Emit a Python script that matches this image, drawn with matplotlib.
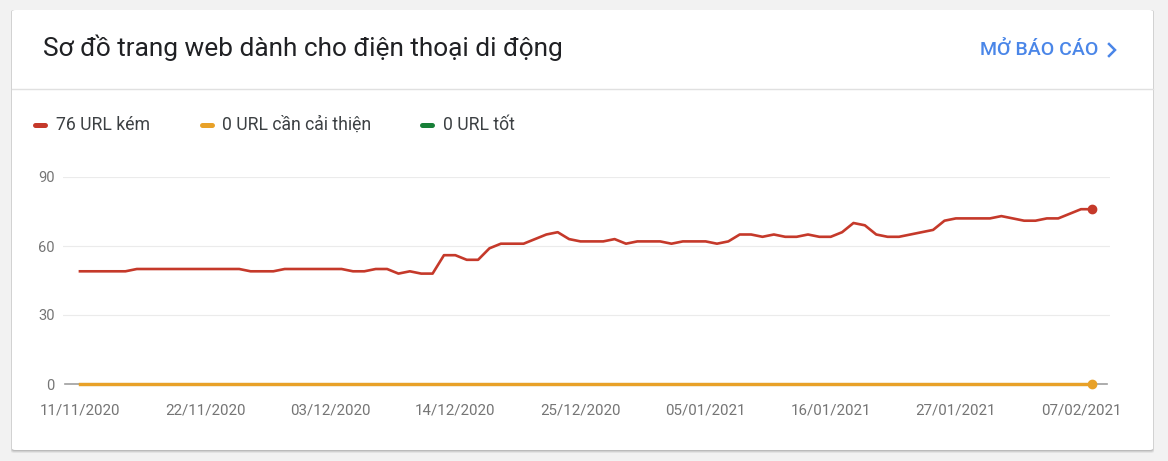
import matplotlib
matplotlib.use("Agg")
import matplotlib.pyplot as plt
import matplotlib.dates as mdates
from matplotlib.patches import FancyBboxPatch
from matplotlib.lines import Line2D
import pandas as pd

# ---------------- data ----------------
start_date = "2020-11-11"
poor = [49, 49, 49, 49, 49, 50, 50, 50, 50, 50,
        50, 50, 50, 50, 50, 49, 49, 49, 50, 50,
        50, 50, 50, 50, 49, 49, 50, 50, 48, 49,
        48, 48, 56, 56, 54, 54, 59, 61, 61, 61,
        63, 65, 66, 63, 62, 62, 62, 63, 61, 62,
        62, 62, 61, 62, 62, 62, 61, 62, 65, 65,
        64, 65, 64, 64, 65, 64, 64, 66, 70, 69,
        65, 64, 64, 65, 66, 67, 71, 72, 72, 72,
        72, 73, 72, 71, 71, 72, 72, 74, 76, 76]
needs_improvement = [0, 0, 0, 0, 0, 0, 0, 0, 0, 0,
                     0, 0, 0, 0, 0, 0, 0, 0, 0, 0,
                     0, 0, 0, 0, 0, 0, 0, 0, 0, 0,
                     0, 0, 0, 0, 0, 0, 0, 0, 0, 0,
                     0, 0, 0, 0, 0, 0, 0, 0, 0, 0,
                     0, 0, 0, 0, 0, 0, 0, 0, 0, 0,
                     0, 0, 0, 0, 0, 0, 0, 0, 0, 0,
                     0, 0, 0, 0, 0, 0, 0, 0, 0, 0,
                     0, 0, 0, 0, 0, 0, 0, 0, 0, 0]
good = list(needs_improvement)
x_tick_labels = ["11/11/2020", "22/11/2020", "03/12/2020", "14/12/2020", "25/12/2020",
                 "05/01/2021", "16/01/2021", "27/01/2021", "07/02/2021"]
y_ticks = [0, 30, 60, 90]
legend_labels = ["76 URL kém", "0 URL cần cải thiện", "0 URL tốt"]
title = "Sơ đồ trang web dành cho điện thoại di động"
link_text = "MỞ BÁO CÁO"

dates = pd.date_range(start_date, periods=len(poor), freq="D")
tick_dates = pd.to_datetime(x_tick_labels, format="%d/%m/%Y")

RED = "#c5392a"
ORANGE = "#e8a128"
GREEN = "#188038"

plt.rcParams["font.family"] = ["Roboto", "DejaVu Sans"]

W, H = 1168, 461
fig = plt.figure(figsize=(W / 100, H / 100), dpi=100)
fig.patch.set_facecolor("#f2f2f2")


def fx(x):
    return x / W


def fy(y):
    return 1 - y / H


# card shadow + card
for off, a in [(3, 0.06), (2, 0.08), (1, 0.10)]:
    fig.patches.append(FancyBboxPatch((fx(12 - off * 0.3), fy(450 + off)),
                                      fx(1141 + off * 0.6), (440 + off) / H,
                                      boxstyle="round,pad=0,rounding_size=0.003",
                                      transform=fig.transFigure, facecolor="black",
                                      edgecolor="none", alpha=a, zorder=0))
fig.patches.append(FancyBboxPatch((fx(12), fy(450)), fx(1141), 440 / H,
                                  boxstyle="round,pad=0,rounding_size=0.003",
                                  transform=fig.transFigure, facecolor="white",
                                  edgecolor="none", zorder=1))
# divider
fig.lines.append(Line2D([fx(12), fx(1153)], [fy(89), fy(89)], transform=fig.transFigure,
                        color="#e0e0e0", linewidth=1, zorder=2))

# title
fig.text(fx(43), fy(48), title, fontsize=18.9, color="#202124", va="center", ha="left", zorder=3)
# link
fig.text(fx(1098), fy(50), link_text, fontsize=14, color="#4a86e8", va="center", ha="right",
         weight="medium", zorder=3)
fig.lines.append(Line2D([fx(1109), fx(1115), fx(1109)], [fy(44), fy(50), fy(56)],
                        transform=fig.transFigure, color="#4a86e8", linewidth=1.8,
                        solid_joinstyle="miter", zorder=3))

# legend
for (x0, tx), lab, col in zip([(33, 56), (200, 222), (420, 443)], legend_labels,
                              [RED, ORANGE, GREEN]):
    fig.lines.append(Line2D([fx(x0 + 2), fx(x0 + 12)], [fy(125), fy(125)],
                            transform=fig.transFigure, color=col, linewidth=3.6,
                            solid_capstyle="round", zorder=3))
    fig.text(fx(tx), fy(125), lab, fontsize=12.7, color="#3c4043", va="center", ha="left", zorder=3)

# ---------------- axes ----------------
ax = fig.add_axes([fx(63), fy(384), (1110 - 63) / W, (384 - 177) / H], zorder=4)
ax.set_facecolor("none")

d0 = mdates.date2num(dates[0])
ax.set_xlim(d0 - 1.49, d0 + 90.55)
ax.set_ylim(0, 90)

for yv in y_ticks[1:]:
    ax.axhline(yv, color="#ebebeb", linewidth=0.8, zorder=1)
ax.axhline(0, xmin=0.002, xmax=0.997, color="#9e9e9e", linewidth=1.2, zorder=1, clip_on=False)

ax.plot(dates, good, color=GREEN, linewidth=2.2, zorder=2, clip_on=False)
ax.plot(dates, needs_improvement, color=ORANGE, linewidth=2.4, zorder=3, clip_on=False)
ax.plot(dates, poor, color=RED, linewidth=1.9, zorder=4, clip_on=False)
ax.plot(dates[-1:], poor[-1:], "o", color=RED, markersize=6, zorder=5, clip_on=False)
ax.plot(dates[-1:], needs_improvement[-1:], "o", color=ORANGE, markersize=6, zorder=5, clip_on=False)

for s in ax.spines.values():
    s.set_visible(False)

ax.set_yticks(y_ticks)
ax.set_yticklabels([str(v) for v in y_ticks])
ax.set_xticks(tick_dates)
ax.set_xticklabels(x_tick_labels)
ax.tick_params(axis="y", length=0, pad=6, labelsize=10.5, labelcolor="#757575")
ax.tick_params(axis="x", length=0, pad=14, labelsize=10.9, labelcolor="#757575")

fig.savefig("out.png", dpi=100, facecolor=fig.get_facecolor())
